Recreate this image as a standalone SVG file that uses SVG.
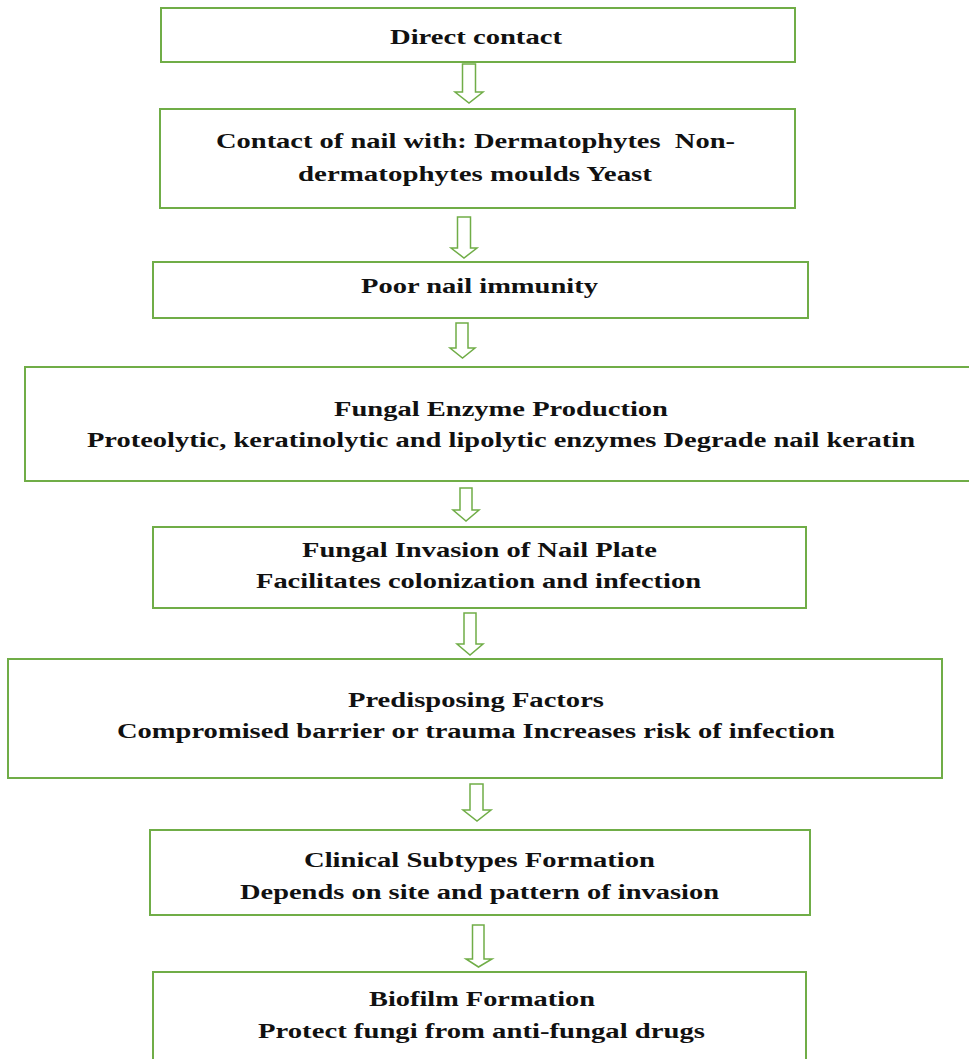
<svg xmlns="http://www.w3.org/2000/svg" width="969" height="1059" viewBox="0 0 969 1059">
<style>
.box{fill:#fff;stroke:#70AD47;stroke-width:2}
.arr{fill:#fff;stroke:#70AD47;stroke-width:1.5;stroke-linejoin:miter}
text{font-family:"Liberation Serif","Times New Roman",serif;font-weight:bold;font-size:21px;fill:#111}
</style>
<rect width="969" height="1059" fill="#fff"/>
<g id="connectors">
<path class="arr" d="M462.5,64 H475.5 V92 H483 L469,103 L455,92 H462.5 Z"/>
<path class="arr" d="M457.5,217 H470.5 V248 H477 L464,258 L451,248 H457.5 Z"/>
<path class="arr" d="M456,323 H468 V348 H475 L462.5,358 L450,348 H456 Z"/>
<path class="arr" d="M460,488 H472 V510 H479 L466,521 L453,510 H460 Z"/>
<path class="arr" d="M464,613 H476 V644 H483 L470,655 L457,644 H464 Z"/>
<path class="arr" d="M470,784 H483 V810 H491 L477,821 L463,810 H470 Z"/>
<path class="arr" d="M472.5,925 H484 V959 H492 L478.5,967 L466,959 H472.5 Z"/>
</g>
<g id="n1"><rect class="box" x="161" y="8" width="634" height="54"/>
<text transform="scale(1.36,1)" x="286.76" y="44" textLength="126.47" lengthAdjust="spacingAndGlyphs">Direct contact</text></g>
<g id="n2"><rect class="box" x="160" y="109" width="635" height="99"/>
<text transform="scale(1.36,1)" x="158.82" y="148" textLength="381.62" lengthAdjust="spacingAndGlyphs" xml:space="preserve">Contact of nail with: Dermatophytes  Non-</text>
<text transform="scale(1.36,1)" x="219.12" y="181" textLength="260.29" lengthAdjust="spacingAndGlyphs">dermatophytes moulds Yeast</text></g>
<g id="n3"><rect class="box" x="153" y="262" width="655" height="56"/>
<text transform="scale(1.36,1)" x="265.44" y="293" textLength="174.26" lengthAdjust="spacingAndGlyphs">Poor nail immunity</text></g>
<g id="n4"><rect class="box" x="25" y="367" width="950" height="114"/>
<text transform="scale(1.36,1)" x="245.59" y="416" textLength="245.59" lengthAdjust="spacingAndGlyphs">Fungal Enzyme Production</text>
<text transform="scale(1.36,1)" x="63.97" y="447" textLength="608.82" lengthAdjust="spacingAndGlyphs">Proteolytic, keratinolytic and lipolytic enzymes Degrade nail keratin</text></g>
<g id="n5"><rect class="box" x="153" y="527" width="653" height="81"/>
<text transform="scale(1.36,1)" x="222.06" y="557" textLength="261.03" lengthAdjust="spacingAndGlyphs">Fungal Invasion of Nail Plate</text>
<text transform="scale(1.36,1)" x="188.24" y="588" textLength="327.21" lengthAdjust="spacingAndGlyphs">Facilitates colonization and infection</text></g>
<g id="n6"><rect class="box" x="8" y="659" width="934" height="119"/>
<text transform="scale(1.36,1)" x="255.88" y="707" textLength="188.24" lengthAdjust="spacingAndGlyphs">Predisposing Factors</text>
<text transform="scale(1.36,1)" x="86.03" y="738" textLength="527.94" lengthAdjust="spacingAndGlyphs">Compromised barrier or trauma Increases risk of infection</text></g>
<g id="n7"><rect class="box" x="150" y="830" width="660" height="85"/>
<text transform="scale(1.36,1)" x="223.53" y="867" textLength="258.09" lengthAdjust="spacingAndGlyphs">Clinical Subtypes Formation</text>
<text transform="scale(1.36,1)" x="176.47" y="899" textLength="352.21" lengthAdjust="spacingAndGlyphs">Depends on site and pattern of invasion</text></g>
<g id="n8"><rect class="box" x="153" y="972" width="653" height="95"/>
<text transform="scale(1.36,1)" x="271.32" y="1006" textLength="166.18" lengthAdjust="spacingAndGlyphs">Biofilm Formation</text>
<text transform="scale(1.36,1)" x="189.71" y="1038" textLength="328.68" lengthAdjust="spacingAndGlyphs">Protect fungi from anti-fungal drugs</text></g>
</svg>
